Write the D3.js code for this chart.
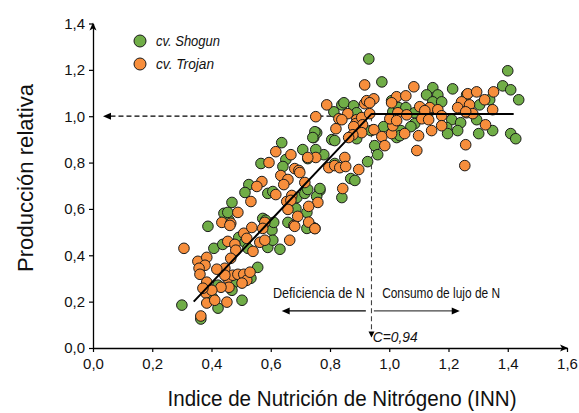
<!DOCTYPE html>
<html><head><meta charset="utf-8">
<script src="https://cdn.jsdelivr.net/npm/d3@7"></script>
<style>
html,body{margin:0;padding:0;background:#fff;}
svg{display:block;font-family:"Liberation Sans",Arial,sans-serif;}
</style></head>
<body><svg id="c" width="579" height="413"></svg>
<script>
// ---- data ----
const seriesNames = ["cv. Shogun", "cv. Trojan"];
const seriesColors = ["#70ad47", "#f78e3c"];
const xTicks = [0, 0.2, 0.4, 0.6, 0.8, 1.0, 1.2, 1.4, 1.6];
const yTicks = [0, 0.2, 0.4, 0.6, 0.8, 1.0, 1.2, 1.4];
const criticalINN = 0.94;
const plateau = 1.01;
const fitLine = [[0.34, 0.20], [0.94, 1.01], [1.42, 1.01]];

const shogun = [
[0.388,0.525],[0.459,0.551],[0.577,0.555],[0.604,0.508],[0.408,0.430],[0.492,0.477],[0.513,0.456],
[0.523,0.430],[0.590,0.434],[0.556,0.348],[0.533,0.301],[0.479,0.284],[0.422,0.271],[0.469,0.249],
[0.405,0.215],[0.503,0.206],[0.300,0.185],[0.422,0.172],[0.364,0.125],[0.631,0.426],[0.442,0.581],
[0.438,0.447],[0.607,0.465],[0.658,0.542],[0.742,0.520],[0.840,0.649],
[0.745,0.908],[0.755,0.929],[0.806,0.899],[0.637,0.886],[0.708,0.856],[0.779,0.834],[0.725,0.817],
[0.651,0.813],[0.567,0.796],[0.641,0.783],[0.816,0.796],[0.526,0.705],[0.513,0.671],[0.590,0.667],
[0.607,0.675],[0.688,0.649],[0.715,0.667],[0.725,0.684],[0.766,0.680],[0.755,0.654],[0.469,0.628],
[0.685,0.602],[0.722,0.585],[0.455,0.585],[0.573,0.559],[0.583,0.551],[0.610,0.542],[0.722,0.516],
[0.749,0.516],
[0.931,1.247],[0.975,1.148],[0.840,1.049],[0.847,1.058],[0.880,1.045],[0.813,1.019],[0.890,1.015],
[0.907,0.955],[0.938,0.938],[0.890,0.903],[0.749,0.933],[0.742,0.908],[0.816,0.895],[0.951,0.873],
[0.961,0.834],[1.025,0.908],[1.012,1.019],[0.752,0.856],[0.927,0.804],[0.870,0.731],[0.884,0.723],
[0.766,0.688],[0.981,0.955],[1.039,0.938],[1.032,1.037],
[1.147,1.123],[1.214,1.118],[1.126,1.092],[1.164,1.092],[1.261,1.092],[1.147,1.062],[1.177,1.062],
[1.008,1.067],[1.056,1.037],[1.305,1.049],[1.086,1.015],[1.130,1.011],[1.211,0.985],[1.241,0.972],
[1.194,0.951],[1.086,0.968],[1.073,0.955],[1.036,0.916],[1.197,0.925],[1.231,0.938],[1.302,0.925],
[1.400,1.196],[1.383,1.131],[1.410,1.114],[1.437,1.071],[1.339,1.071],[1.295,0.985],[1.349,0.938],
[1.410,0.925],[1.427,0.903]
];

const trojan = [
[0.435,0.542],[0.465,0.538],[0.509,0.495],[0.536,0.520],[0.580,0.542],[0.307,0.430],[0.455,0.460],
[0.479,0.447],[0.482,0.422],[0.540,0.417],[0.563,0.456],[0.580,0.465],[0.465,0.387],[0.445,0.344],
[0.354,0.374],[0.384,0.391],[0.378,0.357],[0.358,0.344],[0.361,0.318],[0.418,0.340],[0.455,0.301],
[0.472,0.314],[0.489,0.318],[0.509,0.318],[0.519,0.292],[0.503,0.280],[0.459,0.262],[0.432,0.262],
[0.384,0.284],[0.445,0.314],[0.381,0.237],[0.401,0.249],[0.384,0.194],[0.411,0.206],[0.452,0.198],
[0.364,0.138],[0.489,0.585],[0.519,0.473],[0.530,0.327],[0.371,0.258],[0.664,0.465],[0.678,0.529],
[0.728,0.543],[0.749,0.515],
[0.617,0.847],[0.752,0.822],[0.668,0.834],[0.594,0.800],[0.681,0.774],[0.695,0.766],[0.634,0.744],
[0.796,0.778],[0.658,0.727],[0.644,0.705],[0.715,0.714],[0.570,0.718],[0.553,0.697],[0.617,0.662],
[0.671,0.658],[0.759,0.628],[0.654,0.632],[0.668,0.637],[0.533,0.632],[0.658,0.598],[0.728,0.611],
[0.691,0.568],[0.681,0.525],[0.573,0.516],[0.462,0.529],
[0.917,1.135],[0.789,1.049],[0.917,1.054],[0.924,1.067],[0.948,1.075],[0.934,1.058],[0.860,1.011],
[0.752,0.998],[0.830,0.989],[0.840,0.985],[0.890,0.985],[0.887,0.968],[0.907,0.994],[0.934,1.011],
[0.910,0.963],[0.880,0.955],[0.907,0.929],[0.948,0.942],[0.877,0.920],[0.820,0.946],[0.863,0.908],
[0.975,0.912],[0.985,0.873],[1.008,0.925],[1.012,0.959],[1.002,0.989],[1.025,1.084],[1.008,1.058],
[0.725,0.822],[0.850,0.822],[0.816,0.787],[0.833,0.778],[0.853,0.783],[0.897,0.770],[0.698,0.757],
[0.843,0.688],
[1.083,1.127],[1.056,1.088],[1.265,1.097],[1.295,1.105],[1.244,1.062],[1.103,1.041],[1.137,1.037],
[1.231,1.037],[1.271,1.049],[1.164,1.028],[1.029,1.015],[1.120,1.024],[1.177,1.002],[1.261,1.015],
[1.282,1.011],[1.025,0.981],[1.110,0.989],[1.133,0.985],[1.177,0.959],[1.052,0.925],[1.099,0.916],
[1.143,0.938],[1.093,0.852],[1.258,0.877],[1.255,0.787],[1.059,1.006],
[1.352,1.105],[1.322,1.071],[1.349,1.028],[1.325,0.963],[1.258,1.019]
];

// ---- chart ----
const svg = d3.select("#c");
const x = d3.scaleLinear().domain([0, 1.6]).range([93, 567]);
const y = d3.scaleLinear().domain([0, 1.4]).range([348, 23.5]);
const fmt = d => d3.format(".1f")(d).replace(".", ",");

// axes
const xAxis = svg.append("g").attr("transform", `translate(0,${y(0)})`)
  .call(d3.axisBottom(x).tickValues(xTicks).tickFormat(fmt).tickSize(4).tickSizeOuter(0));
const yAxis = svg.append("g").attr("transform", `translate(${x(0)},0)`)
  .call(d3.axisLeft(y).tickValues(yTicks).tickFormat(fmt).tickSize(4).tickSizeOuter(0));
[xAxis, yAxis].forEach(a => {
  a.select(".domain").attr("stroke", "#000").attr("stroke-width", 1.3);
  a.selectAll(".tick line").attr("stroke", "#000").attr("stroke-width", 1.2);
  a.selectAll(".tick text").attr("fill", "#111").style("font-size", "15px");
});
xAxis.selectAll(".tick text").attr("dy", "0.95em").attr("y", 7);
yAxis.selectAll(".tick text").attr("x", -8);
// axis arrowheads
svg.append("path").attr("fill", "#000")
  .attr("d", `M${x(1.6)+1},${y(0)} l-8,-3.5 l2,3.5 l-2,3.5 z`);
svg.append("path").attr("fill", "#000")
  .attr("d", `M${x(0)},${y(1.4)-1} l-3.5,8 l3.5,-2 l3.5,2 z`);

// dashed reference lines
svg.append("line").attr("x1", x(criticalINN)).attr("x2", x(0) + 16)
  .attr("y1", y(1.0)).attr("y2", y(1.0))
  .attr("stroke", "#000").attr("stroke-width", 1.2).attr("stroke-dasharray", "5,3");
svg.append("path").attr("fill", "#000")
  .attr("d", `M${x(0)+10},${y(1.0)} l8,-3.5 l0,7 z`);
svg.append("line").attr("x1", x(criticalINN)).attr("x2", x(criticalINN))
  .attr("y1", y(1.0)).attr("y2", y(0.05))
  .attr("stroke", "#444").attr("stroke-width", 1.1).attr("stroke-dasharray", "5,3");
svg.append("path").attr("fill", "#000")
  .attr("d", `M${x(criticalINN)},${y(0.045)} l-3,-6 l6,0 z`);

// points
const groups = [shogun, trojan];
groups.forEach((pts, i) => {
  svg.append("g").selectAll("circle").data(pts).join("circle")
    .attr("cx", d => x(d[0])).attr("cy", d => y(d[1])).attr("r", 5.3)
    .attr("fill", seriesColors[i]).attr("stroke", "#1a1a1a").attr("stroke-width", 1);
});

// broken-line fit
svg.append("path").datum(fitLine)
  .attr("d", d3.line().x(d => x(d[0])).y(d => y(d[1])))
  .attr("fill", "none").attr("stroke", "#000").attr("stroke-width", 2);

// annotations
svg.append("text").attr("x", x(0.918)).attr("y", y(0.215)).attr("text-anchor", "end")
  .attr("textLength", 92).attr("lengthAdjust", "spacingAndGlyphs")
  .style("font-size", "14px").attr("fill", "#111").text("Deficiencia de N");
svg.append("text").attr("x", x(0.976)).attr("y", y(0.215))
  .attr("textLength", 118).attr("lengthAdjust", "spacingAndGlyphs")
  .style("font-size", "14px").attr("fill", "#111").text("Consumo de lujo de N");
// horizontal arrows
svg.append("line").attr("x1", x(0.921)).attr("x2", x(0.66)).attr("y1", y(0.16)).attr("y2", y(0.16))
  .attr("stroke", "#000").attr("stroke-width", 1.2);
svg.append("path").attr("fill", "#000").attr("d", `M${x(0.637)},${y(0.16)} l8,-3.5 l0,7 z`);
svg.append("line").attr("x1", x(0.948)).attr("x2", x(1.215)).attr("y1", y(0.16)).attr("y2", y(0.16))
  .attr("stroke", "#444").attr("stroke-width", 1.2);
svg.append("path").attr("fill", "#000").attr("d", `M${x(1.238)},${y(0.16)} l-8,-3.5 l0,7 z`);
svg.append("text").attr("x", x(0.944)).attr("y", y(0.026))
  .attr("textLength", 45).attr("lengthAdjust", "spacingAndGlyphs")
  .style("font-size", "14px").style("font-style", "italic").attr("fill", "#111").text("C=0,94");

// legend
seriesNames.forEach((n, i) => {
  const cy = 41 + i * 23;
  svg.append("circle").attr("cx", 140).attr("cy", cy).attr("r", 6)
    .attr("fill", seriesColors[i]).attr("stroke", "#1a1a1a").attr("stroke-width", 1);
  svg.append("text").attr("x", 156).attr("y", cy + 5)
    .attr("textLength", i === 0 ? 64 : 58).attr("lengthAdjust", "spacingAndGlyphs")
    .style("font-size", "15px").style("font-style", "italic").attr("fill", "#111").text(n);
});

// axis titles
svg.append("text").attr("x", 342).attr("y", 406).attr("text-anchor", "middle")
  .attr("textLength", 349).attr("lengthAdjust", "spacingAndGlyphs")
  .style("font-size", "22px").attr("fill", "#111").text("Indice de Nutrición de Nitrógeno (INN)");
svg.append("text").attr("transform", "translate(33,178) rotate(-90)").attr("text-anchor", "middle")
  .attr("textLength", 188).attr("lengthAdjust", "spacingAndGlyphs")
  .style("font-size", "22px").attr("fill", "#111").text("Producción relativa");
</script></body></html>
